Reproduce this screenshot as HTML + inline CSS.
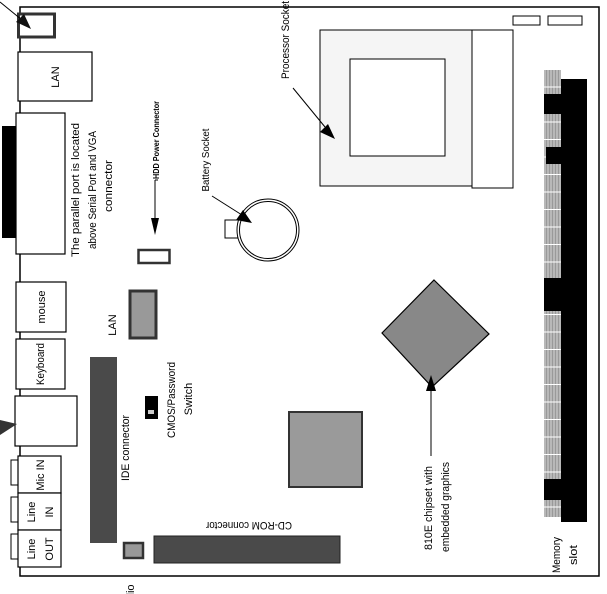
<!DOCTYPE html>
<html><head><meta charset="utf-8"><style>
html,body{margin:0;padding:0;background:#fff;}
svg{display:block;}
text{font-family:"Liberation Sans Narrow","Liberation Sans",sans-serif;fill:#000;}
</style></head><body>
<svg width="607" height="594" viewBox="0 0 607 594" xmlns="http://www.w3.org/2000/svg">
<defs>
<pattern id="hatch" width="3" height="17.5" patternUnits="userSpaceOnUse">
<rect width="3" height="17.5" fill="#b8b8b8"/><rect x="0" width="1" height="17.5" fill="#999"/><rect y="16.5" width="3" height="1" fill="#fff"/>
</pattern>
</defs>
<!-- board outline -->
<path d="M20 10 V7 H599 V576 H20 V10" fill="none" stroke="#000" stroke-width="1.5"/>
<!-- top-left small rect + arrow -->
<rect x="18.5" y="14" width="36" height="23" fill="#fff" stroke="#333" stroke-width="3"/>
<line x1="0" y1="2" x2="22" y2="20" stroke="#000" stroke-width="1"/>
<polygon points="31,29 16,22 24,14" fill="#111"/>
<!-- LAN box -->
<rect x="18" y="52" width="74" height="49" fill="#fff" stroke="#000" stroke-width="1.2"/>
<text transform="translate(59,77) rotate(-90)" font-size="11" text-anchor="middle">LAN</text>
<!-- parallel -->
<rect x="2" y="126" width="14" height="112" fill="#000"/>
<rect x="16" y="113" width="49" height="141" fill="#fff" stroke="#000" stroke-width="1.2"/>
<text transform="translate(79,190) rotate(-90)" font-size="11" text-anchor="middle" textLength="134" lengthAdjust="spacingAndGlyphs">The parallel port is located</text>
<text transform="translate(96,190) rotate(-90)" font-size="11" text-anchor="middle" textLength="118" lengthAdjust="spacingAndGlyphs">above  Serial Port  and VGA</text>
<text transform="translate(112,186) rotate(-90)" font-size="11" text-anchor="middle" textLength="52" lengthAdjust="spacingAndGlyphs">connector</text>
<!-- HDD power -->
<text transform="translate(159,140) rotate(-90)" font-size="8" font-weight="bold" text-anchor="middle" textLength="78" lengthAdjust="spacingAndGlyphs">HDD Power Connector</text>
<line x1="155" y1="180" x2="155" y2="220" stroke="#000" stroke-width="1"/>
<line x1="155" y1="180" x2="158" y2="180" stroke="#000" stroke-width="1"/>
<polygon points="151,218 159,218 155,235" fill="#000"/>
<rect x="138.5" y="250" width="31" height="13" fill="#fff" stroke="#333" stroke-width="2.5"/>
<!-- battery -->
<text transform="translate(209,160) rotate(-90)" font-size="10" text-anchor="middle" textLength="63" lengthAdjust="spacingAndGlyphs">Battery  Socket</text>
<rect x="225" y="220" width="15" height="18" fill="#fff" stroke="#000" stroke-width="1"/>
<circle cx="268" cy="230" r="31" fill="#fff" stroke="#000" stroke-width="1"/>
<circle cx="268" cy="230" r="28.5" fill="none" stroke="#000" stroke-width="1"/>
<line x1="212" y1="196" x2="242" y2="215" stroke="#000" stroke-width="1"/>
<polygon points="252,223 236,220 243,210" fill="#000"/>
<!-- processor -->
<text transform="translate(289,40) rotate(-90)" font-size="11" text-anchor="middle" textLength="78" lengthAdjust="spacingAndGlyphs">Processor Socket</text>
<rect x="320" y="30" width="152" height="156" fill="#f5f5f5" stroke="#000" stroke-width="1"/>
<rect x="350" y="59" width="95" height="97" fill="#fff" stroke="#000" stroke-width="1"/>
<rect x="472" y="30" width="41" height="158" fill="#fff" stroke="#000" stroke-width="1"/>
<line x1="293" y1="88" x2="325" y2="127" stroke="#000" stroke-width="1"/>
<polygon points="335,139 320,132 328,124" fill="#000"/>
<rect x="513" y="16" width="27" height="9" fill="#fff" stroke="#000" stroke-width="1"/>
<rect x="548" y="16" width="34" height="9" fill="#fff" stroke="#000" stroke-width="1"/>
<!-- memory -->
<rect x="544" y="69" width="17" height="448" fill="url(#hatch)"/>
<rect x="561" y="79" width="26" height="443" fill="#000"/>
<rect x="544" y="94" width="17" height="20" fill="#000"/>
<rect x="546" y="147" width="15" height="17" fill="#000"/>
<rect x="544" y="278" width="17" height="33" fill="#000"/>
<rect x="544" y="479" width="17" height="21" fill="#000"/>
<text transform="translate(560,555) rotate(-90)" font-size="11" text-anchor="middle" textLength="36" lengthAdjust="spacingAndGlyphs">Memory</text>
<text transform="translate(577,555) rotate(-90)" font-size="11" text-anchor="middle" textLength="20" lengthAdjust="spacingAndGlyphs">slot</text>
<!-- chipset diamond -->
<polygon points="434,280 489,334 432,387 382,333" fill="#888" stroke="#000" stroke-width="1.2"/>
<line x1="431" y1="456" x2="431" y2="385" stroke="#000" stroke-width="1"/>
<polygon points="426,391 436,391 431,375" fill="#000"/>
<text transform="translate(432,508) rotate(-90)" font-size="11" text-anchor="middle" textLength="84" lengthAdjust="spacingAndGlyphs">810E chipset with</text>
<text transform="translate(449,507) rotate(-90)" font-size="11" text-anchor="middle" textLength="90" lengthAdjust="spacingAndGlyphs">embedded graphics</text>
<!-- grey square -->
<rect x="289" y="412" width="73" height="75" fill="#9a9a9a" stroke="#333" stroke-width="2"/>
<!-- LAN chip -->
<rect x="130" y="291" width="26" height="47" fill="#999" stroke="#333" stroke-width="3"/>
<text transform="translate(116,325) rotate(-90)" font-size="11" text-anchor="middle">LAN</text>
<!-- left connectors -->
<line x1="20" y1="101" x2="20" y2="113" stroke="#000"/>
<line x1="20" y1="254" x2="20" y2="282" stroke="#000"/>
<rect x="16" y="282" width="50" height="50" fill="#fff" stroke="#000" stroke-width="1.2"/>
<text transform="translate(45,307) rotate(-90)" font-size="11" text-anchor="middle">mouse</text>
<rect x="16" y="339" width="49" height="50" fill="#fff" stroke="#000" stroke-width="1.2"/>
<text transform="translate(44,364) rotate(-90)" font-size="11" text-anchor="middle" textLength="42" lengthAdjust="spacingAndGlyphs">Keyboard</text>
<rect x="15" y="396" width="62" height="50" fill="#fff" stroke="#000" stroke-width="1.2"/>
<polygon points="0,420 17,424 0,435" fill="#333"/>
<line x1="20" y1="446" x2="20" y2="456" stroke="#000"/>
<rect x="11" y="460" width="8" height="25" fill="#fff" stroke="#000"/>
<rect x="11" y="497" width="8" height="25" fill="#fff" stroke="#000"/>
<rect x="11" y="534" width="8" height="25" fill="#fff" stroke="#000"/>
<rect x="18" y="456" width="43" height="37" fill="#fff" stroke="#000" stroke-width="1.2"/>
<rect x="18" y="493" width="43" height="37" fill="#fff" stroke="#000" stroke-width="1.2"/>
<rect x="18" y="530" width="43" height="37" fill="#fff" stroke="#000" stroke-width="1.2"/>
<text transform="translate(44,475) rotate(-90)" font-size="11" text-anchor="middle">Mic IN</text>
<text transform="translate(35,512) rotate(-90)" font-size="11" text-anchor="middle">Line</text>
<text transform="translate(53,512) rotate(-90)" font-size="11" text-anchor="middle">IN</text>
<text transform="translate(35,549) rotate(-90)" font-size="11" text-anchor="middle">Line</text>
<text transform="translate(53,549) rotate(-90)" font-size="11" text-anchor="middle">OUT</text>
<!-- IDE -->
<rect x="90" y="357" width="27" height="186" fill="#4a4a4a"/>
<text transform="translate(129,448) rotate(-90)" font-size="11" text-anchor="middle" textLength="66" lengthAdjust="spacingAndGlyphs">IDE connector</text>
<!-- CMOS -->
<rect x="145" y="396" width="13" height="23" fill="#000"/>
<rect x="148" y="410" width="6" height="4" fill="#ccc"/>
<text transform="translate(175,400) rotate(-90)" font-size="11" text-anchor="middle" textLength="76" lengthAdjust="spacingAndGlyphs">CMOS/Password</text>
<text transform="translate(192,399) rotate(-90)" font-size="11" text-anchor="middle">Switch</text>
<!-- small square + CD-ROM -->
<rect x="124" y="543" width="19" height="15" fill="#999" stroke="#333" stroke-width="2.5"/>
<rect x="154" y="536" width="186" height="27" fill="#4a4a4a" stroke="#222" stroke-width="1"/>
<text transform="translate(249,522) rotate(180)" font-size="11" text-anchor="middle" textLength="86" lengthAdjust="spacingAndGlyphs">CD-ROM connector</text>
<text transform="translate(134,590) rotate(-90)" font-size="11" text-anchor="middle">lio</text>
</svg>
</body></html>
